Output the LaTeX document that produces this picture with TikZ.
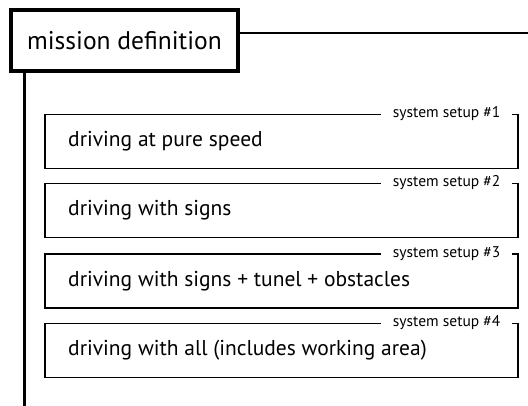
\documentclass[tikz,border=0pt]{standalone}
\usepackage{fontspec}
\setmainfont{PT Sans}
\begin{document}
\begin{tikzpicture}[x=1pt,y=-1pt,
  mission/.style={draw, line width=3.5pt, minimum width=227pt, minimum height=61pt,
    inner sep=0pt, font=\fontsize{25.5}{30}\selectfont},
  setupbox/.style={draw, line width=1.1pt, minimum width=473pt, minimum height=54pt, inner sep=0pt},
  setuptext/.style={anchor=west, inner sep=0pt, font=\fontsize{21.5}{25}\selectfont},
  setuplabel/.style={anchor=east, fill=white, inner xsep=12pt, inner ysep=1pt,
    font=\fontsize{15.5}{18}\selectfont}]
  \useasboundingbox (0,0) rectangle (528,406);

  % header box with its two outgoing rules
  \node[mission] (m) at (124.5,40.5) {mission definition};
  \coordinate (topend) at (528,33);
  \coordinate (trunkend) at (24,406);
  \draw[line width=2pt] (m.east |- topend) -- (topend);
  \draw[line width=3pt] (m.south -| trunkend) -- (trunkend);

  % the four system setups
  \foreach \i/\y/\txt in {1/141.5/driving at pure speed,
                          2/210.5/driving with signs,
                          3/281/driving with signs + tunel + obstacles,
                          4/350.5/driving with all (includes working area)} {
    \node[setupbox] (s\i) at (281.5,\y) {};
    \node[setuptext] (t\i) at (68,\y) {\txt};
    \node[setuplabel] (l\i) at ([xshift=-6pt]s\i.north east) {system setup \#\i};
  }
\end{tikzpicture}
\end{document}
